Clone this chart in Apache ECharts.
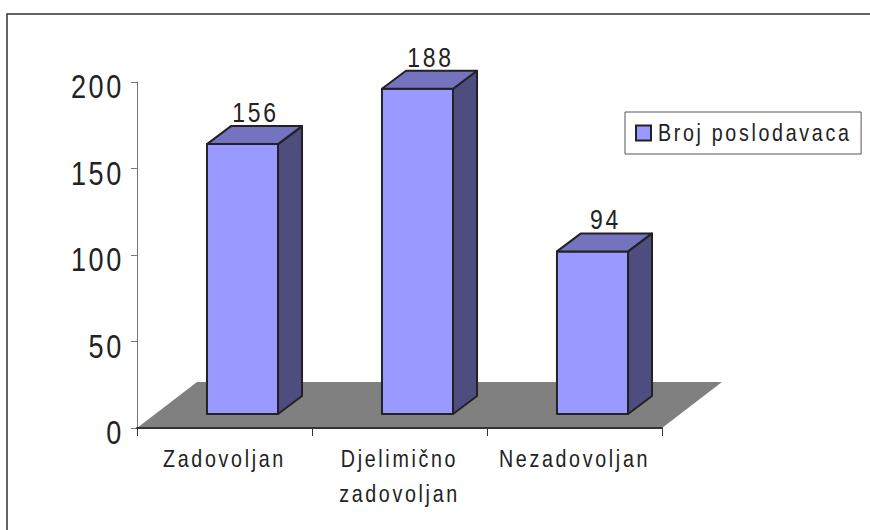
<!DOCTYPE html>
<html>
<head>
<meta charset="utf-8">
<style>
html, body { margin: 0; padding: 0; background: #fff; }
#chart { width: 870px; height: 530px; }
/* the original has widely spaced text */
#chart svg text { letter-spacing: 3.25px; }
</style>
<script src="https://cdn.jsdelivr.net/npm/echarts@6/dist/echarts.min.js"></script>
</head>
<body>
<div id="chart"></div>
<script>
// chart data
const categories = ['Zadovoljan', 'Djelimično\nzadovoljan', 'Nezadovoljan'];
const seriesName = 'Broj poslodavaca';
const values = [156, 188, 94];
const yTicks = { min: 0, max: 200, interval: 50 };

const FONT = '"Liberation Sans", Arial, sans-serif';
const TEXT_COLOR = '#222222';
const LINE_COLOR = '#222222';
const TEXT_SQUEEZE = 0.82;

// oblique offsets used for the fake 3D look
const FLOOR_DX = 60, FLOOR_DY = -46;
const FRONT_DX = 18, FRONT_DY = -14;
const DEPTH_DX = 24, DEPTH_DY = -18;
const BAR_RATIO = 0.406;

// grey floor under the bars
function renderFloor(params, api) {
    const x0 = api.coord([0, 0])[0] - api.size([1, 0])[0] / 2;
    const x1 = x0 + api.size([1, 0])[0] * categories.length;
    const y = api.coord([0, 0])[1];
    return {
        type: 'polygon',
        shape: { points: [[x0, y], [x1, y], [x1 + FLOOR_DX, y + FLOOR_DY], [x0 + FLOOR_DX, y + FLOOR_DY]] },
        style: { fill: '#808080' }
    };
}

// one box: front, top and side faces and its value label
function renderBar(params, api) {
    const center = api.coord([api.value(0), 0])[0];
    const base = api.coord([api.value(0), 0])[1];
    const top = api.coord([api.value(0), api.value(1)])[1];
    const w = api.size([1, 0])[0] * BAR_RATIO;
    const l = center + FRONT_DX - w / 2;
    const r = l + w;
    const by = base + FRONT_DY;
    const ty = top + FRONT_DY;
    const stroke = { stroke: LINE_COLOR, lineWidth: 2, lineJoin: 'round' };
    return {
        type: 'group',
        children: [
            {
                type: 'polygon',
                shape: { points: [[l, by], [r, by], [r, ty], [l, ty]] },
                style: { fill: '#9999ff', ...stroke }
            },
            {
                type: 'polygon',
                shape: { points: [[r, by], [r + DEPTH_DX, by + DEPTH_DY], [r + DEPTH_DX, ty + DEPTH_DY], [r, ty]] },
                style: { fill: '#4d4d80', ...stroke }
            },
            {
                type: 'polygon',
                shape: { points: [[l, ty], [r, ty], [r + DEPTH_DX, ty + DEPTH_DY], [l + DEPTH_DX, ty + DEPTH_DY]] },
                style: { fill: '#7373bf', ...stroke }
            },
            {
                type: 'text',
                style: {
                    text: String(api.value(1)),
                    x: (l + r) / 2 + DEPTH_DX / 2 + 1,
                    y: ty + DEPTH_DY,
                    textAlign: 'center',
                    textVerticalAlign: 'bottom',
                    font: '28px ' + FONT,
                    fill: TEXT_COLOR
                }
            }
        ]
    };
}

// the original font is condensed, squeeze each text around its anchor
function squeezeTexts() {
    document.querySelectorAll('#chart svg text').forEach(el => {
        if (el.dataset.squeezed) return;
        el.dataset.squeezed = '1';
        const x = parseFloat(el.getAttribute('x')) || 0;
        const t = el.getAttribute('transform') || '';
        el.setAttribute('transform', `${t} translate(${x} 0) scale(${TEXT_SQUEEZE} 1) translate(${-x} 0)`);
    });
}

// initialise the chart
function init() {
    const chart = echarts.init(document.getElementById('chart'), null, { renderer: 'svg' });
    chart.on('finished', squeezeTexts);
    chart.setOption({
        animation: false,
        backgroundColor: '#ffffff',
        graphic: [{
            type: 'polyline',
            shape: { points: [[7, 530], [7, 14], [870, 14]] },
            style: { fill: 'none', stroke: '#333333', lineWidth: 1.5 }
        }],
        grid: { left: 137, top: 82, width: 525, height: 346 },
        legend: {
            data: [seriesName],
            icon: 'rect',
            left: 625,
            top: 112,
            padding: [9, 19, 9, 10],
            itemWidth: 15,
            itemHeight: 15,
            itemGap: 0,
            itemStyle: { color: '#9999ff', borderColor: LINE_COLOR, borderWidth: 2 },
            borderColor: '#555555',
            borderWidth: 1,
            textStyle: { fontFamily: FONT, fontSize: 24, color: TEXT_COLOR, padding: [0, 0, 0, 2] }
        },
        xAxis: {
            type: 'category',
            data: categories,
            z: 3,
            axisLine: { lineStyle: { color: '#333333', width: 2 } },
            axisTick: { show: true, length: 8, lineStyle: { color: '#333333' } },
            axisLabel: {
                interval: 0,
                hideOverlap: false,
                fontFamily: FONT,
                fontSize: 24,
                color: TEXT_COLOR,
                margin: 13,
                lineHeight: 35
            }
        },
        yAxis: {
            type: 'value',
            min: yTicks.min,
            max: yTicks.max,
            interval: yTicks.interval,
            splitLine: { show: false },
            axisLine: { show: true, lineStyle: { color: '#777777', width: 1 } },
            axisTick: { show: true, length: 6, lineStyle: { color: '#777777' } },
            axisLabel: {
                fontFamily: FONT,
                fontSize: 33,
                color: TEXT_COLOR,
                margin: 13,
                verticalAlign: 'top',
                lineHeight: 10
            }
        },
        series: [
            {
                type: 'custom',
                name: 'floor',
                renderItem: renderFloor,
                data: [0],
                silent: true,
                z: 1
            },
            {
                type: 'custom',
                name: seriesName,
                renderItem: renderBar,
                data: values.map((v, i) => [i, v]),
                encode: { x: 0, y: 1 },
                itemStyle: { color: '#9999ff', borderColor: LINE_COLOR, borderWidth: 2 },
                z: 2
            }
        ]
    });
}

document.addEventListener('DOMContentLoaded', init);
</script>
</body>
</html>
